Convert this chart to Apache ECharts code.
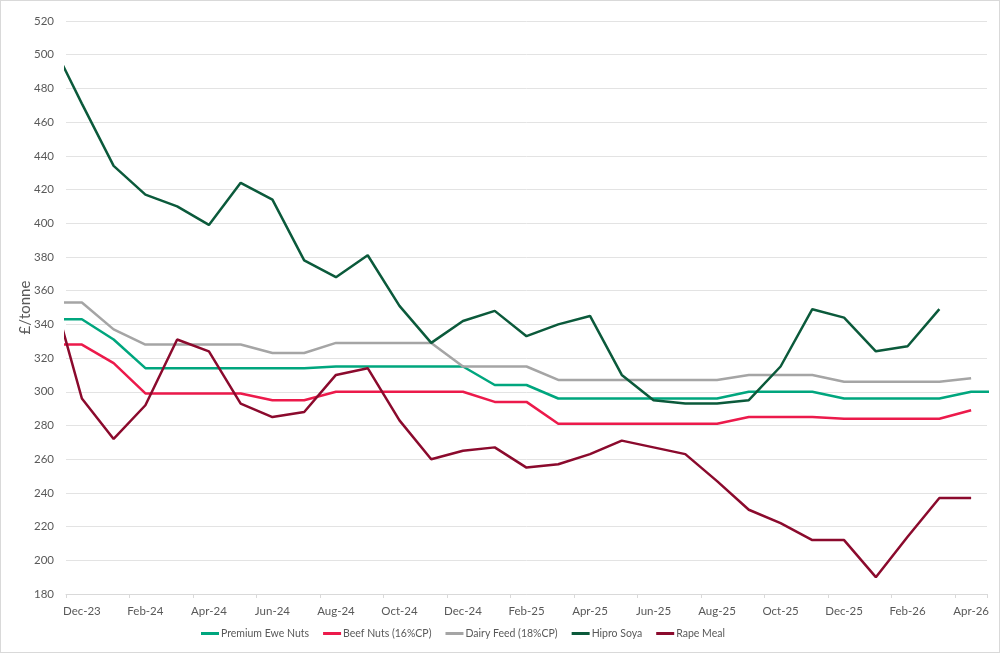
<!DOCTYPE html>
<html>
<head>
<meta charset="utf-8">
<script src="https://cdn.jsdelivr.net/npm/echarts@6/dist/echarts.min.js"></script>
<style>
  html, body { margin: 0; padding: 0; background: #fff; }
  #frame { width: 1000px; height: 653px; box-sizing: border-box; border: 1px solid #d9d9d9; position: relative; }
  #chart { position: absolute; left: -1px; top: -1px; width: 1000px; height: 653px; }
</style>
</head>
<body>
<div id="frame"><div id="chart"></div></div>
<script>
// Months from Nov-23 (clipped at left edge) to May-26 (clipped at right edge)
const months = ['Nov-23','Dec-23','Jan-24','Feb-24','Mar-24','Apr-24','May-24','Jun-24','Jul-24','Aug-24','Sep-24','Oct-24','Nov-24','Dec-24',
  'Jan-25','Feb-25','Mar-25','Apr-25','May-25','Jun-25','Jul-25','Aug-25','Sep-25','Oct-25','Nov-25','Dec-25',
  'Jan-26','Feb-26','Mar-26','Apr-26','May-26'];
// Visible axis categories (Dec-23 .. Apr-26)
const axisMonths = months.slice(1, 30);

const premiumEweNuts = [343,343,331,314,314,314,314,314,314,315,315,315,315,315,304,304,296,296,296,296,296,296,300,300,300,296,296,296,296,300,300];
const beefNuts       = [328,328,317,299,299,299,299,295,295,300,300,300,300,300,294,294,281,281,281,281,281,281,285,285,285,284,284,284,284,289,null];
const dairyFeed      = [353,353,337,328,328,328,328,323,323,329,329,329,329,315,315,315,307,307,307,307,307,307,310,310,310,306,306,306,306,308,null];
const hiproSoya      = [509,471,434,417,410,399,424,414,378,368,381,351,329,342,348,333,340,345,310,295,293,293,295,315,349,344,324,327,349,null,null];
const rapeMeal       = [364,296,272,292,331,324,293,285,288,310,314,283,260,265,267,255,257,263,271,267,263,247,230,222,212,212,190,214,237,237,null];

const seriesNames  = ['Premium Ewe Nuts','Beef Nuts (16%CP)','Dairy Feed (18%CP)','Hipro Soya','Rape Meal'];
const seriesValues = [premiumEweNuts, beefNuts, dairyFeed, hiproSoya, rapeMeal];
const seriesColors = ['#00A67E','#EC1A4B','#A5A5A5','#0B5A3B','#8B0A2D'];

const FONT = '"Lato",sans-serif';

const chart = echarts.init(document.getElementById('chart'), null, { renderer: 'canvas' });

const toPairs = vals => vals.map((v, i) => v == null ? null : [i, v]).filter(Boolean);

chart.setOption({
  animation: false,
  backgroundColor: 'transparent',
  grid: { left: 66, right: 13, top: 21, bottom: 59, containLabel: false },
  legend: {
    bottom: 9,
    left: 196,
    itemWidth: 18,
    itemHeight: 3,
    itemGap: 14,
    icon: 'rect',
    textStyle: { color: '#595959', fontSize: 10.5, fontFamily: FONT, padding: [0, 0, 0, -3] },
    data: seriesNames
  },
  xAxis: [
    {
      type: 'category',
      data: axisMonths,
      boundaryGap: true,
      position: 'bottom',
      axisLine: { show: true, lineStyle: { color: '#d9d9d9', width: 1 } },
      axisTick: { show: true, interval: 1, length: 4, lineStyle: { color: '#d9d9d9' } },
      axisLabel: { interval: 1, color: '#595959', fontSize: 11.5, fontFamily: FONT, margin: 11 },
      splitLine: { show: false }
    },
    {
      type: 'value',
      min: 0.5,
      max: 29.5,
      show: false
    }
  ],
  yAxis: {
    type: 'value',
    min: 180,
    max: 520,
    interval: 20,
    name: '£/tonne',
    nameLocation: 'middle',
    nameGap: 33,
    nameMoveOverlap: false,
    nameTextStyle: { color: '#595959', fontSize: 15, fontFamily: FONT },
    axisLine: { show: false },
    axisTick: { show: false },
    axisLabel: { color: '#595959', fontSize: 11.5, fontFamily: FONT, margin: 12 },
    splitLine: { show: true, lineStyle: { color: '#e3e3e3', width: 1 } }
  },
  series: seriesNames.map((name, k) => ({
    name: name,
    type: 'line',
    xAxisIndex: 1,
    data: toPairs(seriesValues[k]),
    showSymbol: false,
    symbol: 'none',
    clip: true,
    lineStyle: { color: seriesColors[k], width: 2.5 },
    itemStyle: { color: seriesColors[k] },
    z: 2 + k
  }))
});
</script>
</body>
</html>
